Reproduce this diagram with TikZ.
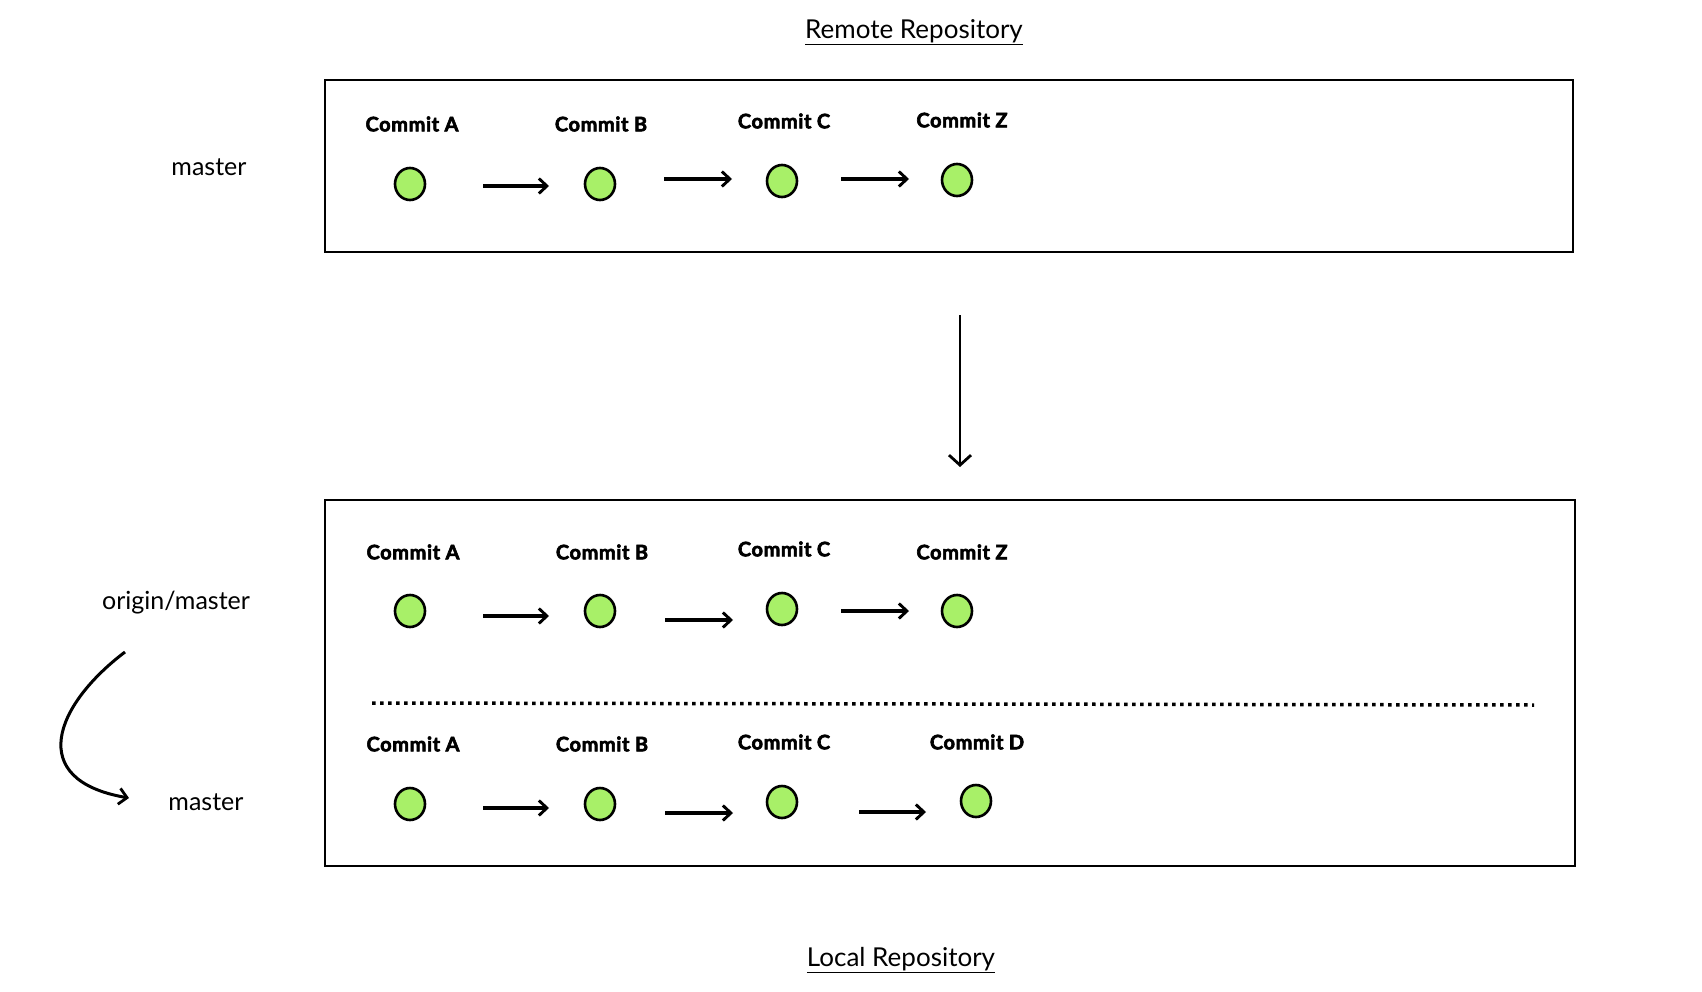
\documentclass[tikz,border=0pt]{standalone}
\usepackage{fontspec}
\setmainfont{Lato}
\newfontfamily\commitfont{Lato}[LetterSpace=3,BoldFeatures={FakeBold=3}]
\usetikzlibrary{arrows.meta,shapes.geometric}
\definecolor{commitgreen}{RGB}{168,240,104}
\begin{document}
\begin{tikzpicture}[x=1pt,y=-1pt,
  box/.style={draw,line width=2.6pt},
  commit/.style={ellipse,draw,line width=2.6pt,fill=commitgreen,minimum width=30pt,minimum height=32pt,inner sep=0pt},
  clabel/.style={font=\commitfont\fontsize{20}{23}\selectfont\bfseries,inner sep=0pt},
  side/.style={font=\fontsize{25}{30}\selectfont,inner sep=0pt},
  title/.style={font=\fontsize{26}{30}\selectfont,inner sep=0pt},
  harrow/.style={line width=3.3pt,-{Straight Barb[length=8pt,width=15pt,line width=2.9pt]}},
  varrow/.style={line width=2.8pt,-{Straight Barb[length=10pt,width=22pt,line width=2.8pt]}}
]
\useasboundingbox (0,0) rectangle (1702,992);

% titles
\node[title] (tremote) at (914,32) {\underline{Remote Repository}};
\node[title] (tlocal) at (901,960) {\underline{Local Repository}};

% boxes
\draw[box] (325,80) rectangle (1573,252);
\draw[box] (325,500) rectangle (1575,866);

% side labels
\node[side] (smaster) at (209,167) {master};
\node[side] (sorigin) at (176,603) {origin/master};
\node[side] (smaster2) at (206,802) {master};

% remote row
\node[commit] (r1) at (410,184) {};
\node[commit] (r2) at (600,184) {};
\node[commit] (r3) at (782,181) {};
\node[commit] (r4) at (957,180) {};
\node[clabel] (lr1) at (412,124) {Commit A};
\node[clabel] (lr2) at (601,124) {Commit B};
\node[clabel] (lr3) at (784,121) {Commit C};
\node[clabel] (lr4) at (962,120) {Commit Z};
\coordinate (ra1) at (483,186); \coordinate (rb1) at (549,186);
\coordinate (ra2) at (664,179); \coordinate (rb2) at (732,179);
\coordinate (ra3) at (841,179); \coordinate (rb3) at (909,179);
\draw[harrow] (ra1) -- (rb1);
\draw[harrow] (ra2) -- (rb2);
\draw[harrow] (ra3) -- (rb3);

% fetch arrow
\coordinate (fa) at (960,315); \coordinate (fb) at (960,467);
\draw[varrow] (fa) -- (fb);

% local origin/master row
\node[commit] (o1) at (410,611) {};
\node[commit] (o2) at (600,611) {};
\node[commit] (o3) at (782,609) {};
\node[commit] (o4) at (957,611) {};
\node[clabel] (lo1) at (413,552) {Commit A};
\node[clabel] (lo2) at (602,552) {Commit B};
\node[clabel] (lo3) at (784,549) {Commit C};
\node[clabel] (lo4) at (962,552) {Commit Z};
\coordinate (oa1) at (483,616); \coordinate (ob1) at (549,616);
\coordinate (oa2) at (665,620); \coordinate (ob2) at (733,620);
\coordinate (oa3) at (841,611); \coordinate (ob3) at (909,611);
\draw[harrow] (oa1) -- (ob1);
\draw[harrow] (oa2) -- (ob2);
\draw[harrow] (oa3) -- (ob3);

% dotted separator
\coordinate (da) at (372,703); \coordinate (db) at (1534,705);
\draw[line width=3.5pt,dash pattern=on 3.5pt off 4.5pt] (da) -- (db);

% local master row
\node[commit] (m1) at (410,804) {};
\node[commit] (m2) at (600,804) {};
\node[commit] (m3) at (782,802) {};
\node[commit] (m4) at (976,801) {};
\node[clabel] (lm1) at (413,744) {Commit A};
\node[clabel] (lm2) at (602,744) {Commit B};
\node[clabel] (lm3) at (784,742) {Commit C};
\node[clabel] (lm4) at (977,742) {Commit D};
\coordinate (ma1) at (483,808); \coordinate (mb1) at (549,808);
\coordinate (ma2) at (665,813); \coordinate (mb2) at (733,813);
\coordinate (ma3) at (859,812); \coordinate (mb3) at (926,812);
\draw[harrow] (ma1) -- (mb1);
\draw[harrow] (ma2) -- (mb2);
\draw[harrow] (ma3) -- (mb3);

% curved arrow origin/master -> master
\coordinate (ca) at (125,652); \coordinate (cb) at (129,798);
\draw[line width=3pt,-{Straight Barb[length=8pt,width=16pt,line width=2.8pt]}]
  (ca) .. controls (55,705) and (25,780) .. (cb);
\end{tikzpicture}
\end{document}
